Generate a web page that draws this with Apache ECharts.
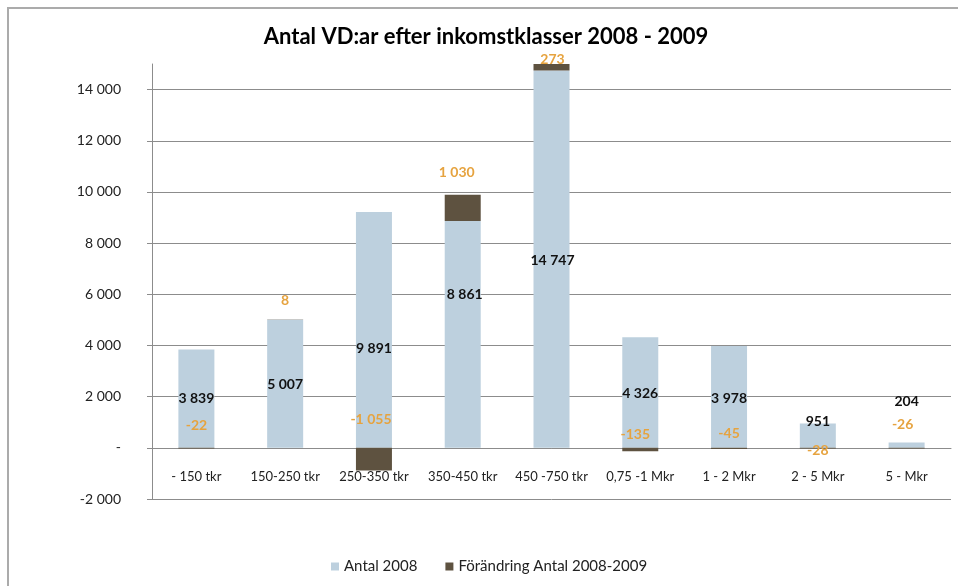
<!DOCTYPE html>
<html>
<head>
<meta charset="utf-8">
<title>Antal VD:ar efter inkomstklasser 2008 - 2009</title>
<script src="https://cdn.jsdelivr.net/npm/echarts@6/dist/echarts.min.js"></script>
<style>
  html, body { margin: 0; padding: 0; background: #fff; }
  #chart { width: 958px; height: 586px; }
</style>
</head>
<body>
<div id="chart"></div>
<script>
  // data
  var categories = ['- 150 tkr', '150-250 tkr', '250-350 tkr', '350-450 tkr', '450 -750 tkr',
                    '0,75 -1 Mkr', '1 - 2 Mkr', '2 - 5 Mkr', '5 - Mkr'];
  var antal2008 = [3839, 5007, 9220, 8861, 14747, 4326, 3978, 951, 204];
  var forandring = [-22, 8, -885, 1030, 273, -135, -45, -28, -26];
  // the printed labels (not always the same as the bar heights)
  var antalText = ['3 839', '5 007', '9 891', '8 861', '14 747', '4 326', '3 978', '951', '204'];
  var forandringText = ['-22', '8', '-1 055', '1 030', '273', '-135', '-45', '-28', '-26'];

  // label placement (px): lift above the zero line / above the bar top, and x shift
  var antalLift = [49, 63, 99, 153, 187, 54, 49, 26, 46];
  var antalDx = [0, 0, 0, 2, 1, 0, 0, 0, 0];
  var forLift = [22, 19, 28, 22, 5, 13, 14, -3, 23];
  var forDx = [0, 0, -3, -6, 1, -5, 0, 0, -4];

  var FONT = 'Lato, "Open Sans", sans-serif';

  function fmt(v) {
    if (v === 0) return '-';
    var s = String(Math.abs(v)).replace(/\B(?=(\d{3})+(?!\d))/g, ' ');
    return (v < 0 ? '-' : '') + s;
  }

  var blueData = antal2008.map(function (v, i) {
    return {
      value: v,
      label: {
        show: true,
        position: 'insideBottom',
        distance: 0,
        verticalAlign: 'middle',
        offset: [antalDx[i], -antalLift[i]],
        formatter: antalText[i]
      }
    };
  });

  var brownData = forandring.map(function (v, i) {
    return {
      value: v,
      label: {
        show: true,
        position: v < 0 ? 'insideTop' : 'top',
        distance: 0,
        verticalAlign: 'middle',
        offset: [forDx[i], -forLift[i]],
        formatter: forandringText[i]
      }
    };
  });

  var myChart = echarts.init(document.getElementById('chart'));
  var option = {
    backgroundColor: '#fff',
    animation: false,
    textStyle: { fontFamily: FONT },
    graphic: [{
      type: 'rect',
      z: -10,
      shape: { x: 8, y: 8, width: 1000, height: 700 },
      style: { fill: 'none', stroke: '#ababab', lineWidth: 2 }
    }],
    title: {
      text: 'Antal VD:ar efter inkomstklasser 2008 - 2009',
      left: 486,
      textAlign: 'center',
      top: 26,
      padding: 0,
      textStyle: { fontFamily: FONT, fontSize: 22, fontWeight: 'bold', color: '#000' }
    },
    legend: {
      bottom: 7,
      left: 326,
      icon: 'rect',
      itemWidth: 8,
      itemHeight: 8,
      itemGap: 28,
      itemStyle: { borderWidth: 0 },
      textStyle: { fontFamily: FONT, fontSize: 15, color: '#222' },
      data: ['Antal 2008', 'Förändring Antal 2008-2009']
    },
    grid: { left: 152, right: 7, top: 64, bottom: 87, containLabel: false },
    xAxis: {
      type: 'category',
      data: categories,
      axisLine: { onZero: true, lineStyle: { color: '#8c8c8c', width: 1 } },
      axisTick: { show: false },
      // labels sit just under the zero line, as in the original
      axisLabel: { interval: 0, margin: -29, fontSize: 13, color: '#222', fontFamily: FONT },
      z: 1
    },
    yAxis: {
      type: 'value',
      min: -2000,
      max: 15000,
      interval: 2000,
      axisLine: { show: true, lineStyle: { color: '#8c8c8c', width: 1 } },
      axisTick: { show: true, length: 5, lineStyle: { color: '#8c8c8c' } },
      axisLabel: {
        margin: 31, fontSize: 14, color: '#222', fontFamily: FONT,
        showMaxLabel: false,
        formatter: fmt
      },
      splitLine: { show: true, showMaxLine: false, lineStyle: { color: '#8c8c8c', width: 1 } }
    },
    series: [{
      name: 'Antal 2008',
      type: 'bar',
      stack: 'vd',
      barWidth: 36,
      itemStyle: { color: '#bdd0de' },
      label: { fontFamily: FONT, fontSize: 14, fontWeight: 'bold', color: '#111' },
      data: blueData,
      z: 2
    }, {
      name: 'Förändring Antal 2008-2009',
      type: 'bar',
      stack: 'vd',
      barWidth: 36,
      itemStyle: { color: '#5e5240' },
      label: { fontFamily: FONT, fontSize: 14, fontWeight: 'bold', color: '#e6a33f' },
      data: brownData,
      z: 3
    }]
  };
  myChart.setOption(option);
</script>
</body>
</html>
